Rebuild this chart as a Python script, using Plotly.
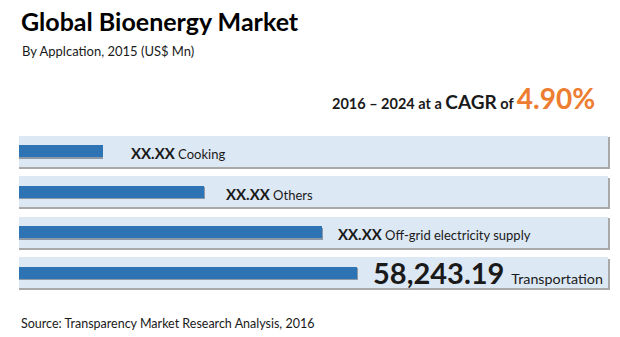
import plotly.graph_objects as go

# ---- data ----
categories = ["Cooking", "Others", "Off-grid electricity supply", "Transportation"]
values = [14500, 31900, 52200, 58243.19]          # US$ Mn, 2015 (first three)
value_labels = ["XX.XX", "XX.XX", "XX.XX", "58,243.19"]
cagr_label = "4.90%"
period_label = "2016 – 2024"

# ---- style ----
FONT = "Lato"
BAR_COLOR = "#2e74b5"
PANEL_COLOR = "#dde8f5"
SHADOW_COLOR = "#a9a9a9"
PANEL_MAX = 101500
AXIS_MAX = 101850
label_gap = [26, 20, 14, 14]
value_sizes = [15, 15, 15, 29]
cat_sizes = [13, 13, 13, 14.3]

ML, MR, MT, MB = 19, 10, 131, 44
W, H = 620, 337
PH = H - MT - MB
PW = W - ML - MR


def py(ypix):
    return (H - MB - ypix) / PH


def px(xpix):
    return (xpix - ML) / PW


fig = go.Figure()

# panel shadows
fig.add_trace(go.Bar(
    y=categories, x=[PANEL_MAX * 1.003] * 4, orientation="h",
    width=0.77, offset=-0.385 + 0.045, marker=dict(color=SHADOW_COLOR, line=dict(width=0)),
    hoverinfo="skip", showlegend=False))
# panels
fig.add_trace(go.Bar(
    y=categories, x=[PANEL_MAX] * 4, orientation="h",
    width=0.77, offset=-0.385, marker=dict(color=PANEL_COLOR, line=dict(width=0)),
    hoverinfo="skip", showlegend=False))
# bar shadows
fig.add_trace(go.Bar(
    y=categories, x=[v * 1.004 for v in values], orientation="h",
    width=0.3, offset=-0.15 + 0.035, marker=dict(color="#8d99a6", line=dict(width=0)),
    hoverinfo="skip", showlegend=False))
# bars
fig.add_trace(go.Bar(
    y=categories, x=values, orientation="h",
    width=0.3, offset=-0.15, marker=dict(color=BAR_COLOR, line=dict(width=0)),
    hoverinfo="skip", showlegend=False))

annos = []
for cat, v, lab, gap, vs, cs in zip(categories, values, value_labels, label_gap, value_sizes, cat_sizes):
    sep = " " if vs < 20 else "  "
    annos.append(dict(
        x=v, y=cat, xref="x", yref="y", xanchor="left", yanchor="middle",
        xshift=gap, yshift=-2 if vs < 20 else 0, showarrow=False,
        text=f"<b><span style='font-size:{vs}px'>{lab}</span></b>{sep}{cat}",
        font=dict(family=FONT, size=cs, color="#1a1a1a")))

annos.append(dict(text="By Applcation, 2015 (US&#36; Mn)", xref="paper", yref="paper",
                  x=px(20), y=py(41), xanchor="left", yanchor="top", showarrow=False,
                  font=dict(family=FONT, size=13, color="#1a1a1a")))
annos.append(dict(
    text="<b>" + period_label + " at a <span style='font-size:19px'>CAGR</span> of "
         "<span style='font-size:28px;color:#ed7d31'>" + cagr_label + "</span></b>",
    xref="paper", yref="paper", x=px(597), y=py(117), xanchor="right", yanchor="bottom",
    showarrow=False, font=dict(family=FONT, size=14.5, color="#1a1a1a")))
annos.append(dict(text="Source: Transparency Market Research Analysis, 2016", xref="paper",
                  yref="paper", x=px(19), y=py(314), xanchor="left", yanchor="top",
                  showarrow=False, font=dict(family=FONT, size=12.5, color="#1a1a1a")))

fig.update_layout(
    width=W, height=H,
    title=dict(text="<b>Global Bioenergy Market</b>", x=21 / W, xanchor="left",
               y=1 - 13 / H, yanchor="top", xref="container", yref="container",
               font=dict(family=FONT, size=25, color="#000000")),
    margin=dict(l=ML, r=MR, t=MT, b=MB, pad=0),
    paper_bgcolor="white", plot_bgcolor="white",
    barmode="overlay", bargap=0,
    showlegend=False,
    xaxis=dict(range=[0, AXIS_MAX], visible=False, fixedrange=True),
    yaxis=dict(range=[3.5, -0.5], visible=False, fixedrange=True, type="category",
               categoryorder="array", categoryarray=categories),
    annotations=annos,
)

fig.write_html("out.html")
